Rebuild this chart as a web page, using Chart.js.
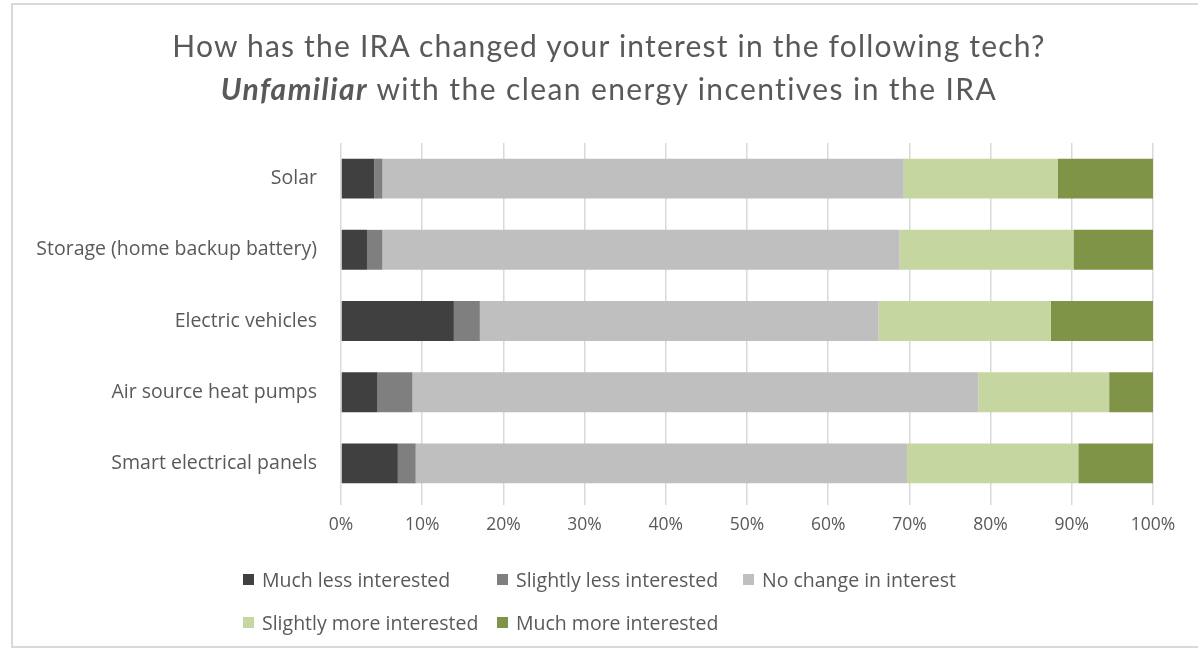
<!DOCTYPE html>
<html>
<head>
<meta charset="utf-8">
<script src="https://cdn.jsdelivr.net/npm/chart.js@4"></script>
<style>
  html, body { margin:0; padding:0; background:#fff; }
  #wrap { position:relative; width:1198px; height:655px; overflow:hidden; font-family: "Open Sans", Lato, sans-serif; }
  #frame { position:absolute; left:11px; top:3px; width:1200px; height:645px; border:2px solid #d9d9d9; border-right:none; box-sizing:border-box; }
  #chart { position:absolute; left:0; top:0; }
  .t { position:absolute; left:0; width:1218px; text-align:center; color:#595959; font-family: Lato, sans-serif; font-size:30px; letter-spacing:1.2px; white-space:nowrap; }
  #t1 { top:27px; }
  #t2 { top:70px; }
  #t2 { letter-spacing:1.4px; }
  #legend { position:absolute; left:0; top:0; color:#595959; font-size:19.5px; }
  .li { position:absolute; display:flex; align-items:center; white-space:nowrap; height:26px; }
  .sw { width:11px; height:11px; margin-right:8px; }
</style>
</head>
<body>
<div id="wrap">
  <div id="frame"></div>
  <canvas id="chart" width="1198" height="655"></canvas>
  <div class="t" id="t1">How has the IRA changed your interest in the following tech?</div>
  <div class="t" id="t2"><b><i>Unfamiliar</i></b> with the clean energy incentives in the IRA</div>
  <div id="legend"></div>
</div>
<script>
const categories = ["Solar", "Storage (home backup battery)", "Electric vehicles", "Air source heat pumps", "Smart electrical panels"];
const seriesNames = ["Much less interested", "Slightly less interested", "No change in interest", "Slightly more interested", "Much more interested"];
const muchLess     = [4.1, 3.2, 13.9, 4.5, 7.0];
const slightlyLess = [1.0, 1.9, 3.2, 4.3, 2.2];
const noChange     = [64.2, 63.7, 49.1, 69.7, 60.5];
const slightlyMore = [19.0, 21.4, 21.2, 16.1, 21.1];
const muchMore     = [11.7, 9.8, 12.6, 5.4, 9.2];
const tickValues = [0, 10, 20, 30, 40, 50, 60, 70, 80, 90, 100];

const colors = ["#404040", "#7f7f7f", "#bfbfbf", "#c5d6a0", "#7f9447"];
const seriesData = [muchLess, slightlyLess, noChange, slightlyMore, muchMore];

const datasets = seriesNames.map((n, i) => ({
  label: n,
  data: seriesData[i],
  backgroundColor: colors[i],
  borderWidth: 0,
  barPercentage: 0.56,
  categoryPercentage: 1.0
}));

new Chart(document.getElementById('chart'), {
  type: 'bar',
  data: { labels: categories, datasets },
  options: {
    indexAxis: 'y',
    responsive: false,
    animation: false,
    devicePixelRatio: 1,
    layout: { padding: { top: 143, right: 45, bottom: 100, left: 0 } },
    plugins: { legend: { display: false }, title: { display: false }, tooltip: { enabled: false } },
    scales: {
      x: {
        stacked: true,
        min: 0, max: 100,
        afterBuildTicks: s => { s.ticks = tickValues.map(v => ({ value: v })); },
        afterFit: s => { s.height = 56; },
        grid: { color: '#d9d9d9', lineWidth: 1.5, tickLength: 6, drawTicks: true },
        border: { display: false },
        ticks: { color: '#595959', font: { family: 'Open Sans', size: 17.5 }, padding: 10, callback: v => v + '%' }
      },
      y: {
        stacked: true,
        afterFit: s => { s.width = 341; },
        grid: { display: false, drawTicks: false },
        border: { display: false },
        ticks: { color: '#595959', font: { family: 'Open Sans', size: 19.5 }, padding: 24 }
      }
    }
  }
});

const legendPos = [[243, 566], [497, 566], [743, 566], [243, 609], [497, 609]];
const lg = document.getElementById('legend');
seriesNames.forEach((n, i) => {
  const d = document.createElement('div');
  d.className = 'li';
  d.style.left = legendPos[i][0] + 'px';
  d.style.top = legendPos[i][1] + 'px';
  d.innerHTML = '<span class="sw" style="background:' + colors[i] + '"></span><span>' + n + '</span>';
  lg.appendChild(d);
});
</script>
</body>
</html>
